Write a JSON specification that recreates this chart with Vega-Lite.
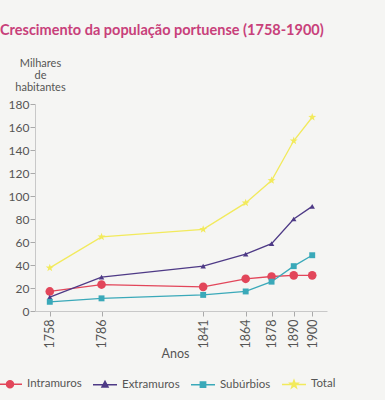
{
  "$schema": "https://vega.github.io/schema/vega-lite/v6.json",
  "width": 292,
  "height": 207,
  "autosize": {"type": "none"},
  "padding": {"left": 35, "top": 104, "right": 58, "bottom": 89},
  "background": "#f5f5f3",
  "title": {
    "text": "Crescimento da população portuense (1758-1900)",
    "anchor": "start",
    "frame": "group",
    "dx": -35,
    "offset": 19,
    "font": "Lato",
    "fontSize": 14.5,
    "fontWeight": "bold",
    "color": "#c8407a"
  },
  "config": {
    "view": {"stroke": null},
    "font": "Lato",
    "axis": {
      "labelFont": "Lato",
      "labelColor": "#555",
      "titleFont": "Lato",
      "titleColor": "#555",
      "titleFontWeight": "normal",
      "domainColor": "#c8c8c8",
      "tickColor": "#aaa",
      "grid": false
    }
  },
  "data": {
    "values": [
      {"ano": 1758, "serie": "Intramuros", "valor": 17},
      {"ano": 1786, "serie": "Intramuros", "valor": 23},
      {"ano": 1841, "serie": "Intramuros", "valor": 21},
      {"ano": 1864, "serie": "Intramuros", "valor": 28},
      {"ano": 1878, "serie": "Intramuros", "valor": 30},
      {"ano": 1890, "serie": "Intramuros", "valor": 31},
      {"ano": 1900, "serie": "Intramuros", "valor": 31},
      {"ano": 1758, "serie": "Extramuros", "valor": 12},
      {"ano": 1786, "serie": "Extramuros", "valor": 29.5},
      {"ano": 1841, "serie": "Extramuros", "valor": 39},
      {"ano": 1864, "serie": "Extramuros", "valor": 49.5},
      {"ano": 1878, "serie": "Extramuros", "valor": 58.5},
      {"ano": 1890, "serie": "Extramuros", "valor": 80},
      {"ano": 1900, "serie": "Extramuros", "valor": 91},
      {"ano": 1758, "serie": "Subúrbios", "valor": 8},
      {"ano": 1786, "serie": "Subúrbios", "valor": 11},
      {"ano": 1841, "serie": "Subúrbios", "valor": 14},
      {"ano": 1864, "serie": "Subúrbios", "valor": 17},
      {"ano": 1878, "serie": "Subúrbios", "valor": 25.5},
      {"ano": 1890, "serie": "Subúrbios", "valor": 39},
      {"ano": 1900, "serie": "Subúrbios", "valor": 48.5},
      {"ano": 1758, "serie": "Total", "valor": 37.5},
      {"ano": 1786, "serie": "Total", "valor": 64.5},
      {"ano": 1841, "serie": "Total", "valor": 71},
      {"ano": 1864, "serie": "Total", "valor": 94},
      {"ano": 1878, "serie": "Total", "valor": 113.5},
      {"ano": 1890, "serie": "Total", "valor": 148},
      {"ano": 1900, "serie": "Total", "valor": 168.5}
    ]
  },
  "encoding": {
    "x": {
      "field": "ano",
      "type": "quantitative",
      "scale": {"domain": [1750, 1908], "nice": false, "zero": false},
      "axis": {
        "title": "Anos",
        "values": [1758, 1786, 1841, 1864, 1878, 1890, 1900],
        "format": "d",
        "labelAngle": -90,
        "labelFontSize": 12.5,
        "labelPadding": 3,
        "tickSize": 5,
        "titleFontSize": 12.5,
        "titlePadding": 0,
        "titleX": 140
      }
    },
    "y": {
      "field": "valor",
      "type": "quantitative",
      "scale": {"domain": [0, 180], "nice": false},
      "axis": {
        "title": ["Milhares", "de", "habitantes"],
        "titleAngle": 0,
        "titleAlign": "center",
        "titleBaseline": "top",
        "titleX": 5,
        "titleY": -47,
        "titleFontSize": 11,
        "titleLineHeight": 12,
        "values": [0, 20, 40, 60, 80, 100, 120, 140, 160, 180],
        "labelFontSize": 12,
        "labelPadding": 1,
        "tickSize": 5
      }
    },
    "color": {
      "field": "serie",
      "type": "nominal",
      "scale": {
        "domain": ["Intramuros", "Extramuros", "Subúrbios", "Total"],
        "range": ["#e2465a", "#4e3a86", "#3aa9b9", "#f2ea5c"]
      },
      "legend": {
        "orient": "none",
        "legendX": -38,
        "legendY": 267,
        "direction": "horizontal",
        "title": null,
        "symbolSize": 576,
        "symbolStrokeWidth": 1.5,
        "labelFont": "Lato",
        "labelFontSize": 11.5,
        "labelColor": "#555",
        "labelOffset": 4,
        "columnPadding": 8,
        "encode": {
          "symbols": {
            "update": {
              "shape": {"signal": "datum.value === 'Intramuros' ? 'M-1,0H1M0.29,0A0.29,0.29,0,1,1,-0.29,0A0.29,0.29,0,1,1,0.29,0Z' : datum.value === 'Extramuros' ? 'M-1,0H1M0,-0.28L0.25,0.18L-0.25,0.18Z' : datum.value === 'Subúrbios' ? 'M-1,0H1M-0.22,-0.22H0.22V0.22H-0.22Z' : 'M-1,0H1M0,-0.33L0.078,-0.107L0.314,-0.102L0.125,0.041L0.194,0.267L0,0.132L-0.194,0.267L-0.125,0.041L-0.314,-0.102L-0.078,-0.107Z'"},
              "fill": {"signal": "scale('color', datum.value)"},
              "stroke": {"signal": "scale('color', datum.value)"},
              "size": {"value": 576},
              "strokeWidth": {"value": 1.5}
            }
          }
        }
      }
    }
  },
  "layer": [
    {
      "mark": {"type": "line", "strokeWidth": 1.3}
    },
    {
      "mark": {
        "type": "point",
        "filled": true,
        "opacity": 1,
        "shape": {"expr": "datum.serie === 'Intramuros' ? 'circle' : datum.serie === 'Extramuros' ? 'triangle-up' : datum.serie === 'Subúrbios' ? 'square' : 'M0,-1L0.235,-0.324L0.951,-0.309L0.38,0.124L0.588,0.809L0,0.4L-0.588,0.809L-0.38,0.124L-0.951,-0.309L-0.235,-0.324Z'"},
        "size": {"expr": "datum.serie === 'Intramuros' ? 75 : datum.serie === 'Extramuros' ? 30 : datum.serie === 'Subúrbios' ? 35 : 70"}
      }
    }
  ]
}
